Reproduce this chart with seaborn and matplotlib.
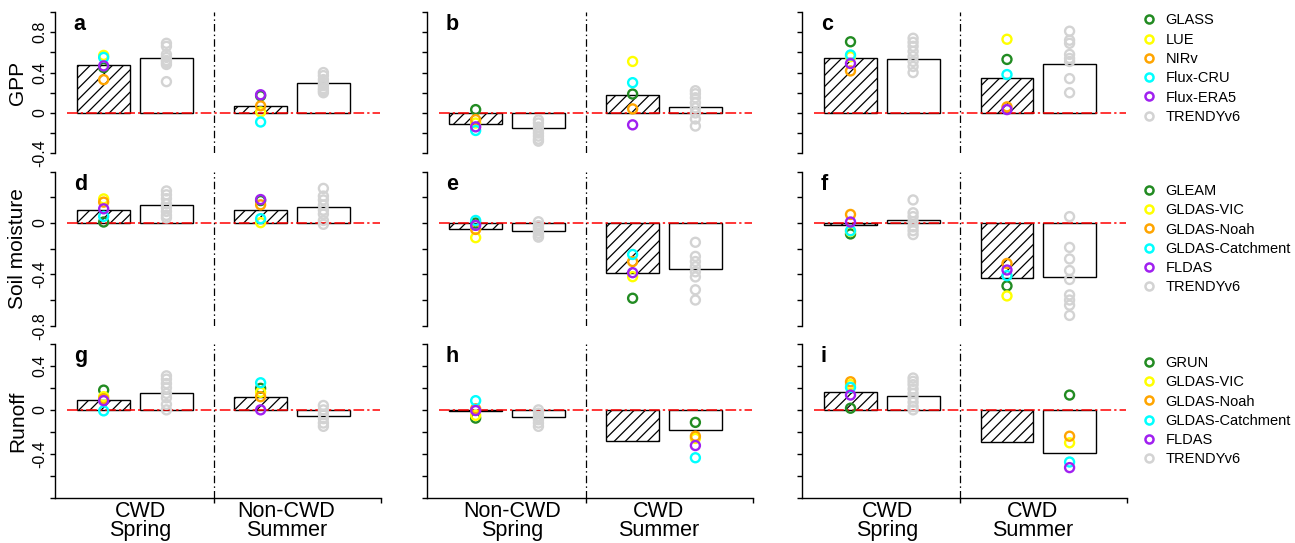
import numpy as np
import pandas as pd
import matplotlib
matplotlib.use("Agg")
import matplotlib.pyplot as plt
from matplotlib.lines import Line2D
import seaborn as sns

# ---------------- data ----------------
gpp_obs_names = ["GLASS", "LUE", "NIRv", "Flux-CRU", "Flux-ERA5"]
sm_obs_names = ["GLEAM", "GLDAS-VIC", "GLDAS-Noah", "GLDAS-Catchment", "FLDAS"]
ro_obs_names = ["GRUN", "GLDAS-VIC", "GLDAS-Noah", "GLDAS-Catchment", "FLDAS"]
model_name = "TRENDYv6"
obs_colors = ["#228B22", "#FFFF00", "#FFA500", "#00FFFF", "#A020F0"]
model_color = "#D3D3D3"

row_titles = ["GPP", "Soil moisture", "Runoff"]
panel_letters = [["a", "b", "c"], ["d", "e", "f"], ["g", "h", "i"]]
col_groups = [["CWD\nSpring", "Non-CWD\nSummer"],
              ["Non-CWD\nSpring", "CWD\nSummer"],
              ["CWD\nSpring", "CWD\nSummer"]]

# hatched bars (observation-based mean) and open bars (TRENDY mean), [group1, group2]
bar_obs = {"a": [0.47, 0.07], "b": [-0.105, 0.18], "c": [0.54, 0.344],
           "d": [0.098, 0.103], "e": [-0.044, -0.392], "f": [-0.018, -0.431],
           "g": [0.087, 0.12], "h": [-0.012, -0.28], "i": [0.16, -0.29]}
bar_model = {"a": [0.54, 0.295], "b": [-0.154, 0.056], "c": [0.535, 0.485],
             "d": [0.142, 0.124], "e": [-0.062, -0.356], "f": [0.026, -0.418],
             "g": [0.156, -0.054], "h": [-0.069, -0.18], "i": [0.13, -0.39]}

# individual observation datasets (in the order of the legend names)
obs_g1 = {"a": [0.45, 0.57, 0.33, 0.55, 0.466],
          "b": [0.033, -0.10, -0.066, -0.174, -0.138],
          "c": [0.705, 0.557, 0.416, 0.574, 0.49],
          "d": [0.008, 0.188, 0.163, 0.052, 0.111],
          "e": [0.0, -0.114, -0.05, 0.02, -0.018],
          "f": [-0.085, -0.065, 0.067, -0.06, 0.008],
          "g": [0.18, 0.12, 0.10, -0.009, 0.084],
          "h": [-0.075, -0.05, 0.01, 0.084, -0.006],
          "i": [0.015, 0.23, 0.256, 0.205, 0.135]}
obs_g2 = {"a": [0.17, 0.01, 0.07, -0.09, 0.18],
          "b": [0.187, 0.51, 0.04, 0.30, -0.118],
          "c": [0.53, 0.73, 0.06, 0.38, 0.033],
          "d": [0.175, 0.003, 0.142, 0.034, 0.183],
          "e": [-0.586, -0.418, -0.30, -0.245, -0.387],
          "f": [-0.49, -0.568, -0.315, -0.41, -0.366],
          "g": [0.196, 0.16, 0.12, 0.247, 0.0],
          "h": [-0.114, -0.26, -0.24, -0.436, -0.325],
          "i": [0.135, -0.30, -0.24, -0.475, -0.526]}
# which bar the observation circles sit on (0 = hatched, 1 = open), per group
obs_bar = {"h": [0, 1], "i": [0, 1]}

# TRENDY models
model_g1 = {"a": [0.69, 0.66, 0.58, 0.55, 0.52, 0.50, 0.48, 0.31],
            "b": [-0.07, -0.10, -0.14, -0.17, -0.20, -0.23, -0.26, -0.28],
            "c": [0.74, 0.70, 0.66, 0.61, 0.56, 0.51, 0.46, 0.40],
            "d": [0.25, 0.22, 0.19, 0.15, 0.12, 0.09, 0.06, 0.04],
            "e": [0.01, -0.02, -0.04, -0.06, -0.08, -0.10, -0.11],
            "f": [0.18, 0.08, 0.05, 0.01, -0.03, -0.06, -0.09],
            "g": [0.31, 0.28, 0.24, 0.20, 0.15, 0.11, 0.05, 0.0],
            "h": [0.0, -0.03, -0.06, -0.09, -0.12, -0.15],
            "i": [0.29, 0.26, 0.23, 0.19, 0.15, 0.11, 0.07, 0.03, 0.0]}
model_g2 = {"a": [0.40, 0.37, 0.33, 0.30, 0.27, 0.24, 0.22, 0.20],
            "b": [0.22, 0.19, 0.15, 0.10, 0.05, 0.0, -0.06, -0.13],
            "c": [0.81, 0.72, 0.69, 0.58, 0.54, 0.51, 0.34, 0.20],
            "d": [0.27, 0.21, 0.18, 0.14, 0.10, 0.07, 0.02, -0.01],
            "e": [-0.15, -0.26, -0.30, -0.34, -0.38, -0.42, -0.52, -0.60],
            "f": [0.05, -0.19, -0.28, -0.37, -0.44, -0.56, -0.60, -0.64, -0.72],
            "g": [0.04, 0.0, -0.04, -0.08, -0.12, -0.15],
            "h": [],
            "i": []}

row_obs_names = [gpp_obs_names, sm_obs_names, ro_obs_names]
row_ylims = [(-0.4, 1.0), (-0.8, 0.4), (-0.8, 0.6)]
row_ylabels = [[-0.4, 0.0, 0.4, 0.8], [-0.8, -0.4, 0.0], [-0.4, 0.0, 0.4]]

# ---------------- style ----------------
sns.set_style("ticks", {"axes.edgecolor": "black", "xtick.color": "black",
                        "ytick.color": "black", "text.color": "black",
                        "axes.labelcolor": "black"})
plt.rcParams['font.family'] = ['Liberation Sans', 'DejaVu Sans']
plt.rcParams['hatch.linewidth'] = 0.9
plt.rcParams['hatch.color'] = 'black'

W, H = 1295, 543
fig = plt.figure(figsize=(W / 100, H / 100), dpi=100)

col_px = [(55, 381), (427, 753), (802, 1127)]
row_px = [(12, 153.3), (171.7, 325.7), (344, 497.7)]
legend_top_px = [13.5, 184, 356]
XLIM = (-0.51, 1.567)
OFF = 0.2
BW = 0.338
dash_red = (0, (7, 2, 1.5, 2))
dash_blk = (0, (6, 2.5, 1.2, 2.5))

for r in range(3):
    names = row_obs_names[r]
    palette = {n: c for n, c in zip(names, obs_colors)}
    palette[model_name] = model_color
    for c in range(3):
        L = panel_letters[r][c]
        x0, x1 = col_px[c]
        y0, y1 = row_px[r]
        ax = fig.add_axes([x0 / W, 1 - y1 / H, (x1 - x0) / W, (y1 - y0) / H])

        # bars
        gpos = np.arange(2)
        ax.bar(gpos - OFF, bar_obs[L], width=BW, facecolor="white", edgecolor="black",
               linewidth=1.0, hatch="///", zorder=1)
        ax.bar(gpos + OFF, bar_model[L], width=BW, facecolor="white", edgecolor="black",
               linewidth=1.0, zorder=1)

        # zero line and divider
        ax.axhline(0, xmin=0.037, xmax=0.997, color="red", lw=1.1, ls=dash_red, zorder=2)
        ax.axvline(0.5, color="black", lw=0.9, ls=dash_blk, zorder=2)

        # points
        recs = []
        ob = obs_bar.get(L, [0, 0])
        for g, (og, mg) in enumerate([(obs_g1[L], model_g1[L]), (obs_g2[L], model_g2[L])]):
            for v in mg:
                recs.append((g + OFF, v, model_name))
            xo = g - OFF if ob[g] == 0 else g + OFF
            for n, v in zip(names, og):
                recs.append((xo, v, n))
        df = pd.DataFrame(recs, columns=["x", "y", "source"])
        ncol_before = len(ax.collections)
        sns.scatterplot(data=df, x="x", y="y", hue="source", palette=palette,
                        s=42, legend=False, ax=ax, zorder=3)
        for coll in ax.collections[ncol_before:]:
            fc = coll.get_facecolors()
            coll.set_edgecolors(fc)
            coll.set_facecolors("none")
            coll.set_linewidths(1.7)

        ax.set_xlim(*XLIM)
        ax.set_ylim(*row_ylims[r])
        ax.set_xlabel("")
        ax.set_ylabel("")
        for s in ["top", "right"]:
            ax.spines[s].set_visible(False)
        ax.spines["left"].set_linewidth(1.0)

        # y ticks
        yt = np.round(np.arange(row_ylims[r][0], row_ylims[r][1] + 1e-9, 0.2), 1)
        ax.set_yticks(yt)
        labs = []
        for v in yt:
            if c == 0 and any(abs(v - l) < 1e-9 for l in row_ylabels[r]):
                labs.append("0" if abs(v) < 1e-9 else f"{v:g}")
            else:
                labs.append("")
        ax.set_yticklabels(labs)
        ax.tick_params(axis="y", direction="out", length=3.6, width=1.0, pad=2,
                       labelsize=11.5, labelrotation=90)
        for t in ax.get_yticklabels():
            t.set_va("center")

        if c == 0:
            ax.set_ylabel(row_titles[r], fontsize=15)
            ax.yaxis.set_label_coords(-0.086, 0.5)

        # x axis
        if r == 2:
            ax.spines["bottom"].set_linewidth(1.0)
            ax.set_xticks([0.5, XLIM[1]])
            ax.set_xticklabels(["", ""])
            ax.tick_params(axis="x", direction="out", length=3.8, width=1.0)
            for gx, lab in zip([0.035, 0.965], col_groups[c]):
                ax.annotate(lab, xy=(gx, 0), xycoords=("data", "axes fraction"),
                            xytext=(0, -2.5), textcoords="offset points",
                            ha="center", va="top", fontsize=15.5, linespacing=0.88,
                            annotation_clip=False)
        else:
            ax.spines["bottom"].set_visible(False)
            ax.set_xticks([])

        # panel letter
        ax.annotate(L, xy=(0, 1), xycoords="axes fraction", xytext=(13.5, -13),
                    textcoords="offset points", fontsize=15.5, fontweight="bold",
                    va="baseline", ha="left")

        # legend
        if c == 2:
            handles = [Line2D([], [], marker="o", ls="none", mfc="none", mec=palette[n],
                              ms=5.8, mew=1.8) for n in names + [model_name]]
            ax.legend(handles, names + [model_name], loc="upper left",
                      bbox_to_anchor=(1143 / W, 1 - legend_top_px[r] / H),
                      bbox_transform=fig.transFigure, frameon=False, fontsize=10.5,
                      handlelength=0.8, handletextpad=0.75, borderaxespad=0,
                      borderpad=0, labelspacing=0.36)

fig.savefig("out.png", dpi=100)
